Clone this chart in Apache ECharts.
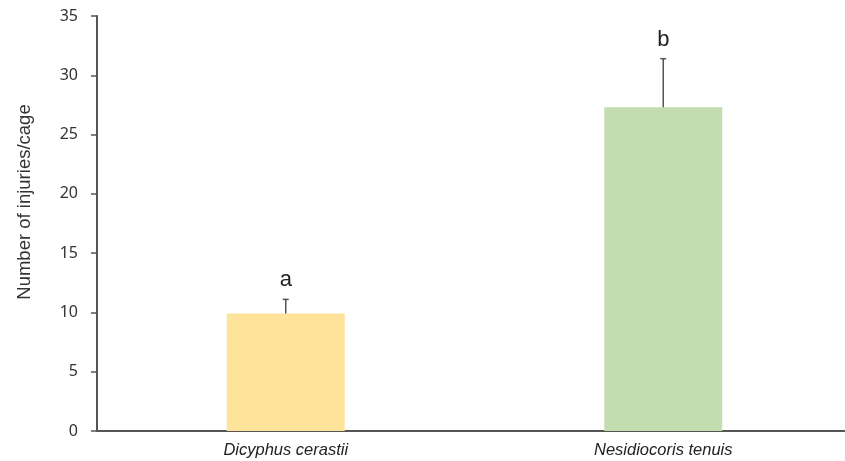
<!DOCTYPE html>
<html>
<head>
<meta charset="utf-8">
<script src="https://cdn.jsdelivr.net/npm/echarts@6/dist/echarts.min.js"></script>
<style>
  html, body { margin: 0; padding: 0; background: #fff; }
  #chart { width: 845px; height: 461px; }
</style>
</head>
<body>
<div id="chart"></div>
<script>
// Mean injuries per cage for each predator species, with standard error
const species = ['Dicyphus cerastii', 'Nesidiocoris tenuis'];
const meanInjuries = [9.9, 27.3];
const stdError = [1.2, 4.1];
const groupLetters = ['a', 'b'];
const barColors = ['#FDE49A', '#C3DDB1'];
const yTicks = [0, 5, 10, 15, 20, 25, 30, 35];
const yTitle = 'Number of injuries/cage';

const chart = echarts.init(document.getElementById('chart'));

const errorData = species.map((s, i) => [i, meanInjuries[i], meanInjuries[i] + stdError[i], groupLetters[i]]);

chart.setOption({
  animation: false,
  grid: { left: 97, width: 755, top: 16, bottom: 30, outerBoundsMode: 'none', containLabel: false },
  graphic: [
    {
      type: 'text',
      x: 25,
      y: 202,
      rotation: Math.PI / 2,
      style: {
        text: yTitle,
        fontFamily: 'Liberation Sans',
        fontSize: 18.5,
        fill: '#333',
        align: 'center',
        verticalAlign: 'middle'
      }
    }
  ],
  xAxis: {
    type: 'category',
    data: species,
    axisLine: { lineStyle: { color: '#555', width: 2 } },
    axisTick: { show: false },
    axisLabel: {
      fontFamily: 'Liberation Sans',
      fontStyle: 'italic',
      fontSize: 16.5,
      color: '#222',
      margin: 11
    }
  },
  yAxis: {
    type: 'value',
    min: yTicks[0],
    max: yTicks[yTicks.length - 1],
    interval: 5,
    splitLine: { show: false },
    axisLine: { show: true, lineStyle: { color: '#555', width: 2 } },
    axisTick: { show: true, length: 6, lineStyle: { color: '#555', width: 1.5 } },
    axisLabel: {
      fontFamily: 'Noto Sans',
      fontSize: 16,
      color: '#333',
      margin: 19
    }
  },
  series: [
    {
      type: 'bar',
      barWidth: 118,
      data: meanInjuries.map((v, i) => ({ value: v, itemStyle: { color: barColors[i] } })),
      z: 2
    },
    {
      type: 'custom',
      data: errorData,
      z: 3,
      renderItem: function (params, api) {
        const x = api.value(0);
        const base = api.coord([x, api.value(1)]);
        const top = api.coord([x, api.value(2)]);
        const cap = 3;
        return {
          type: 'group',
          children: [
            {
              type: 'line',
              shape: { x1: base[0], y1: base[1], x2: top[0], y2: top[1] },
              style: { stroke: '#555', lineWidth: 1.5 }
            },
            {
              type: 'line',
              shape: { x1: top[0] - cap, y1: top[1], x2: top[0] + cap, y2: top[1] },
              style: { stroke: '#555', lineWidth: 1.5 }
            },
            {
              type: 'text',
              style: {
                x: top[0],
                y: top[1] - 19,
                text: api.value(3),
                fontFamily: 'Liberation Sans',
                fontSize: 22,
                fill: '#222',
                align: 'center',
                verticalAlign: 'middle'
              }
            }
          ]
        };
      }
    }
  ]
});
</script>
</body>
</html>
